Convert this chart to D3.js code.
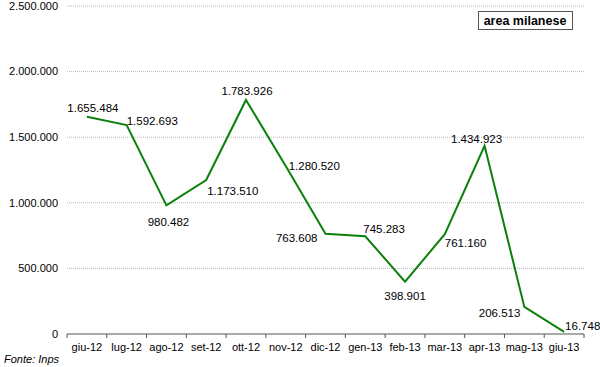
<!DOCTYPE html>
<html><head><meta charset="utf-8">
<script src="https://cdn.jsdelivr.net/npm/d3@7"></script>
<style>body{margin:0;background:#fff}svg{display:block;font-family:Arial,"Liberation Sans",sans-serif}</style>
</head><body><svg id="c" width="600" height="367"></svg>
<script>
const categories = ["giu-12","lug-12","ago-12","set-12","ott-12","nov-12","dic-12","gen-13","feb-13","mar-13","apr-13","mag-13","giu-13"];
const values = [1655484,1592693,980482,1173510,1783926,1280520,763608,745283,398901,761160,1434923,206513,16748];
const yTicks = [0,500000,1000000,1500000,2000000,2500000];
// label placement: [dx, dy, anchor]
const labelPlacement = [[6,-9,"middle"],[0,-4,"start"],[2,17,"middle"],[1,11,"start"],[1,-9,"middle"],[3,0,"start"],[-8,4,"end"],[-2,-7,"start"],[0,14,"middle"],[0,9,"start"],[-8,-7,"middle"],[-4,6,"end"],[1,-6,"start"]];

const fmt = v => d3.format(",")(v).replace(/,/g,".");
const svg = d3.select("#c");
const x = d3.scaleBand().domain(categories).range([67,584]);
const y = d3.scaleLinear().domain([0,2500000]).range([334,6]);

// gridlines
svg.append("g").selectAll("line").data(yTicks.filter(d=>d>0)).join("line")
  .attr("x1",67).attr("x2",584).attr("y1",d=>y(d)).attr("y2",d=>y(d))
  .attr("stroke","#b8b8b8").attr("stroke-width",1).attr("stroke-dasharray","1,1");

// y labels
svg.append("g").selectAll("text").data(yTicks).join("text")
  .attr("x",58).attr("y",d=>y(d)).attr("dy","0.35em").attr("text-anchor","end")
  .attr("font-size",11).attr("fill","#000").text(fmt);

// x axis
const xa = svg.append("g").attr("transform","translate(0,334)");
xa.append("line").attr("x1",67).attr("x2",584).attr("stroke","#555").attr("stroke-width",1.2);
const edges = categories.map(c=>x(c)).concat([x.range()[1]]);
xa.selectAll("line.t").data(edges).join("line").attr("class","t")
  .attr("x1",d=>d).attr("x2",d=>d).attr("y1",0).attr("y2",4).attr("stroke","#555");
xa.selectAll("text").data(categories).join("text")
  .attr("x",d=>x(d)+x.bandwidth()/2).attr("y",13).attr("dy","0.35em")
  .attr("text-anchor","middle").attr("font-size",11).text(d=>d);

// line
const cx = (d,i)=>x(categories[i])+x.bandwidth()/2;
svg.append("path").datum(values)
  .attr("d",d3.line().x((d,i)=>cx(d,i)).y(d=>y(d)))
  .attr("fill","none").attr("stroke","#0c800c").attr("stroke-width",2);

// data labels
svg.append("g").selectAll("text").data(values).join("text")
  .attr("x",(d,i)=>cx(d,i)+labelPlacement[i][0])
  .attr("y",(d,i)=>y(d)+labelPlacement[i][1])
  .attr("dy","0.35em").attr("text-anchor",(d,i)=>labelPlacement[i][2])
  .attr("font-size",11.5).attr("fill","#000").text(fmt);

// title box
svg.append("rect").attr("x",478.5).attr("y",11.5).attr("width",94).attr("height",18)
  .attr("fill","#fff").attr("stroke","#555");
svg.append("text").attr("x",525).attr("y",20.5).attr("dy","0.35em").attr("text-anchor","middle")
  .attr("font-size",12.5).attr("font-weight","bold").text("area milanese");

// source
svg.append("text").attr("x",4).attr("y",359).attr("dy","0.35em").attr("font-size",11)
  .attr("font-style","italic").text("Fonte: Inps");
</script></body></html>
